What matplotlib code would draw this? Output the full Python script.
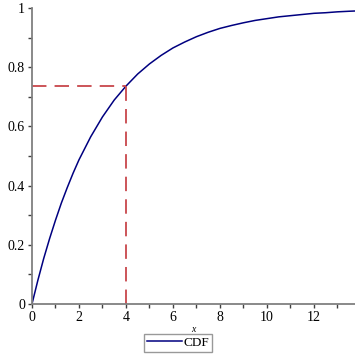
import matplotlib
matplotlib.use('Agg')
import matplotlib.pyplot as plt
from matplotlib.ticker import MultipleLocator

# Datos (CDF)
x_vals = [0, 0.25, 0.5, 0.75, 1, 1.25, 1.5, 1.75, 2, 2.5, 3, 3.5, 4, 4.5, 5, 5.5,
          6, 6.5, 7, 7.5, 8, 8.5, 9, 9.5, 10, 10.5, 11, 11.5, 12, 12.5, 13,
          13.5, 13.8]
cdf_vals = [0, 0.080, 0.154, 0.221, 0.283, 0.341, 0.393, 0.442, 0.487, 0.565,
            0.632, 0.689, 0.736, 0.777, 0.811, 0.840, 0.865, 0.885, 0.903,
            0.918, 0.931, 0.941, 0.950, 0.958, 0.964, 0.970, 0.974, 0.978,
            0.982, 0.984, 0.987, 0.989, 0.990]
x_marca = 4
y_marca = 0.736

plt.rcParams['font.family'] = ['Liberation Serif', 'DejaVu Serif']

fig = plt.figure(figsize=(3.55, 3.55), dpi=100)
ax = fig.add_axes([0.0901, 0.1437, 0.9099, 0.8338])

ax.plot(x_vals, cdf_vals, color='#000080', linewidth=1.1, label='CDF')
rojo = '#c8464b'
ax.plot([0, x_marca], [y_marca, y_marca], color=rojo, linewidth=1.3,
        dashes=(8, 4.5))
ax.plot([x_marca, x_marca], [0, y_marca], color=rojo, linewidth=1.3,
        dashes=(8, 4.5))

ax.set_xlim(0, 13.75)
ax.set_ylim(0, 1)
ax.xaxis.set_major_locator(MultipleLocator(2))
ax.xaxis.set_minor_locator(MultipleLocator(1))
ax.yaxis.set_major_locator(MultipleLocator(0.2))
ax.yaxis.set_minor_locator(MultipleLocator(0.1))
ax.set_yticks([0, 0.2, 0.4, 0.6, 0.8, 1])
ax.set_yticklabels(['0', '0.2', '0.4', '0.6', '0.8', '1'])

for lado in ['top', 'right']:
    ax.spines[lado].set_visible(False)
for lado in ['left', 'bottom']:
    ax.spines[lado].set_color('#808080')
    ax.spines[lado].set_linewidth(1.3)

ax.tick_params(which='both', direction='out', length=3, width=1,
               color='#404040', labelsize=10, pad=2)
ax.set_xlabel('x', fontsize=7, style='italic', labelpad=1)

fig.legend(loc='center', bbox_to_anchor=(0.501, 0.034), fontsize=9.5,
           frameon=True, fancybox=False, edgecolor='#808080',
           handlelength=2.65, borderpad=0.2, handletextpad=0.1,
           borderaxespad=0)

plt.savefig('out.png', dpi=100)
